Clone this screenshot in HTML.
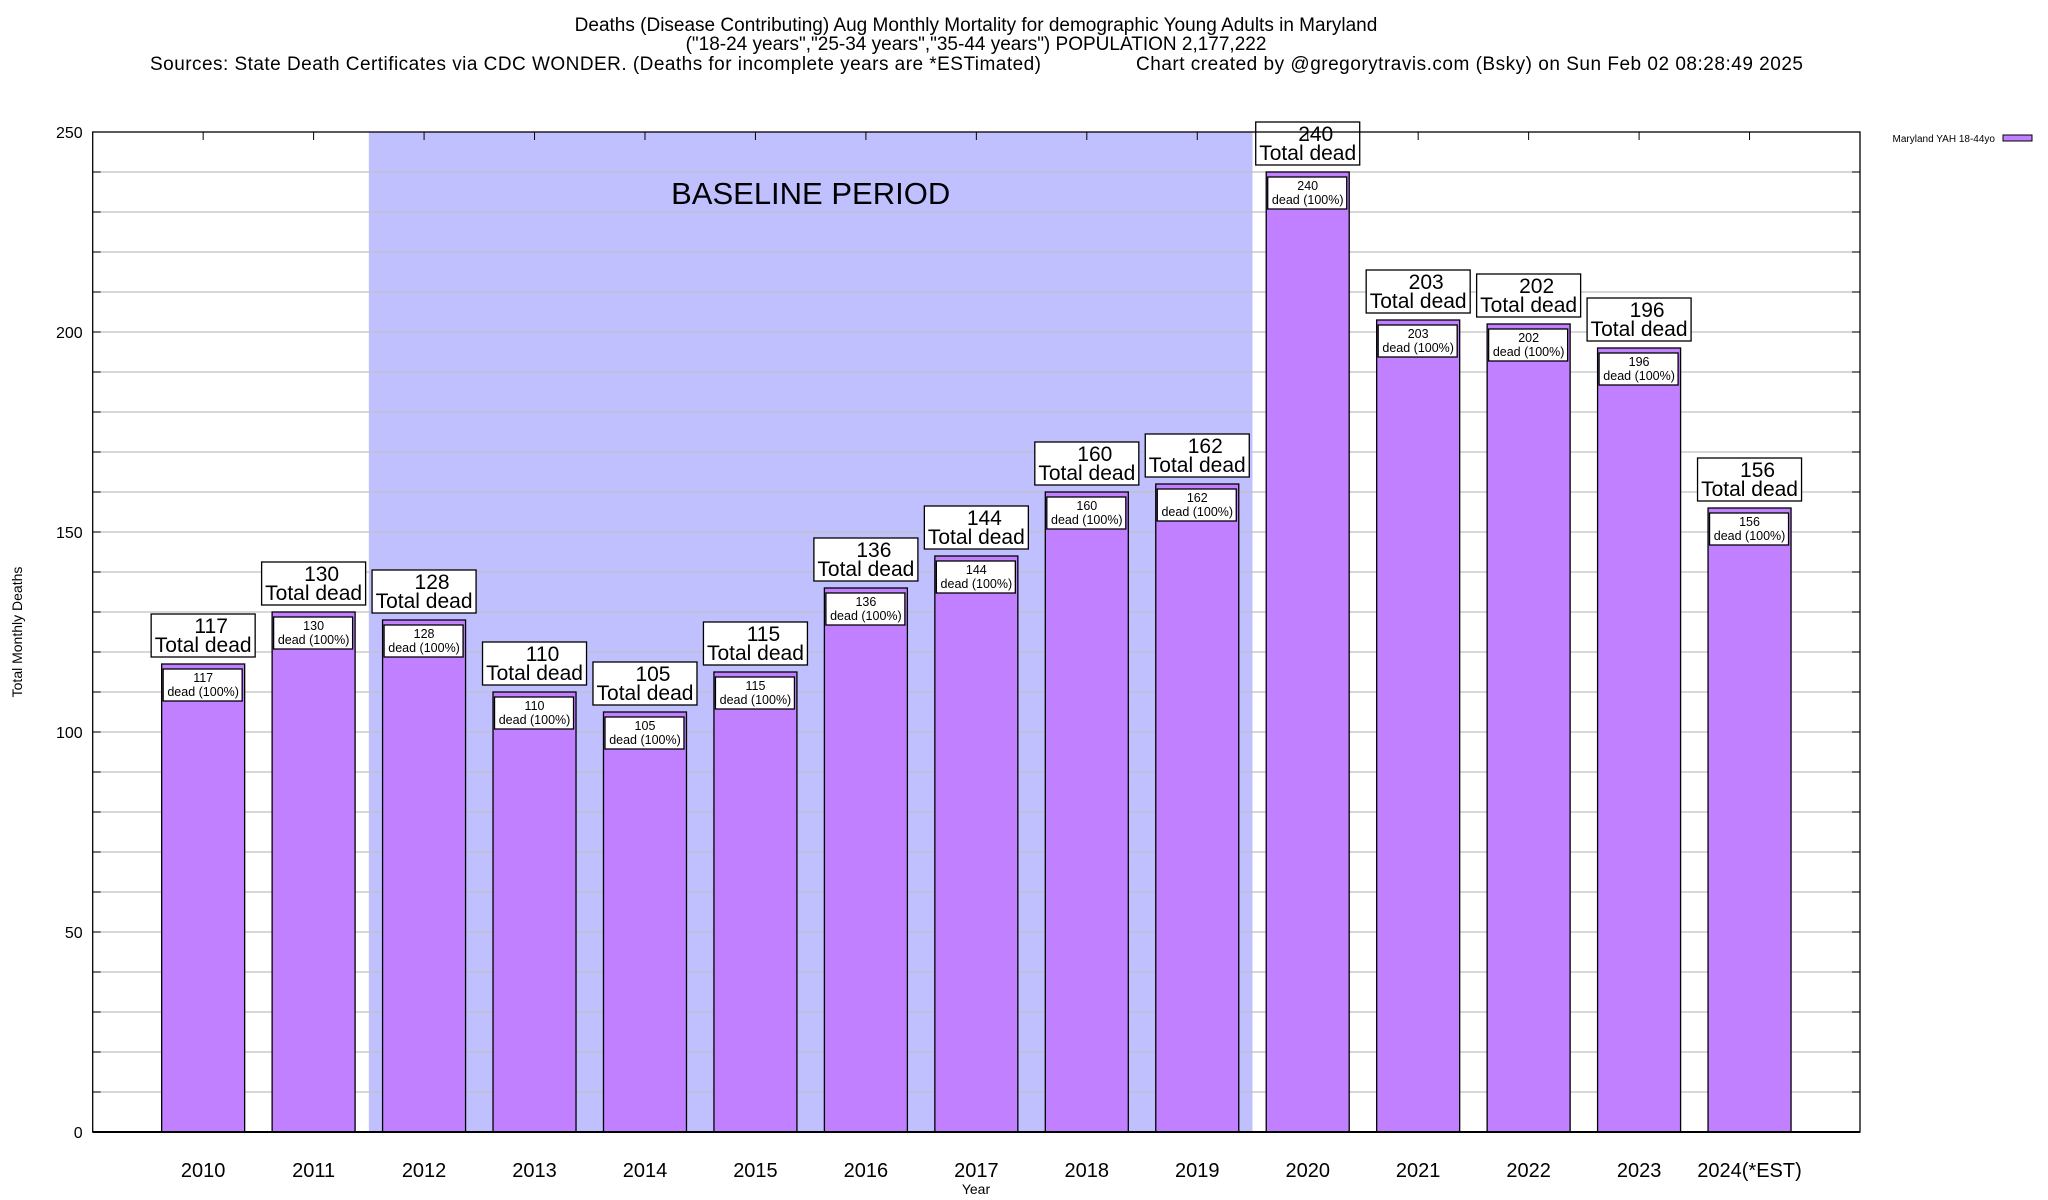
<!DOCTYPE html>
<html><head><meta charset="utf-8"><style>
html,body{margin:0;padding:0;background:#fff;}
svg{display:block;font-family:"Liberation Sans",sans-serif;}
</style></head><body>
<svg id="chart" width="2048" height="1200" viewBox="0 0 2048 1200">
<g font-size="19" text-anchor="middle" fill="#000">
<text x="976" y="31">Deaths (Disease Contributing) Aug Monthly Mortality for demographic Young Adults in Maryland</text>
<text x="976" y="50">("18-24 years","25-34 years","35-44 years") POPULATION 2,177,222</text>
<text x="150" y="70" text-anchor="start" textLength="891">Sources: State Death Certificates via CDC WONDER. (Deaths for incomplete years are *ESTimated)</text>
<text x="1136" y="70" text-anchor="start" textLength="667">Chart created by @gregorytravis.com (Bsky) on Sun Feb 02 08:28:49 2025</text>
</g>
<g id="plot"></g>
<text x="22" y="632" transform="rotate(-90 22 632)" text-anchor="middle" font-size="14">Total Monthly Deaths</text>
<text x="976" y="1194" text-anchor="middle" font-size="14">Year</text>
<g>
<text x="1995" y="142" text-anchor="end" font-size="10">Maryland YAH 18-44yo</text>
<rect x="2003" y="135" width="29" height="6" fill="#c080ff" stroke="#000" stroke-width="1"/>
</g>
</svg>
<script>
const categories = ["2010","2011","2012","2013","2014","2015","2016","2017","2018","2019","2020","2021","2022","2023","2024(*EST)"];
const deaths = [117,130,128,110,105,115,136,144,160,162,240,203,202,196,156];
const yTicks = [0,50,100,150,200,250];
const baselineStart = 1.5, baselineEnd = 9.5;

const L=92.7,R=1860,T=132,B=1132,yMax=250;
const NS='http://www.w3.org/2000/svg';
const xs = i => L + (i+1)*(R-L)/(categories.length+1);
const ys = v => B - v*(B-T)/yMax;
const g = document.getElementById('plot');
function mk(tag, attrs, parent){const e=document.createElementNS(NS,tag);for(const k in attrs)e.setAttribute(k,attrs[k]);(parent||g).appendChild(e);return e;}

const band = mk('rect',{x:xs(baselineStart),y:T,width:xs(baselineEnd)-xs(baselineStart),height:B-T,fill:'#c0c0ff'});


const bt = mk('text',{x:(xs(baselineStart)+xs(baselineEnd))/2,y:204,'text-anchor':'middle','font-size':31});
bt.textContent='BASELINE PERIOD';



for(let v=10; v<yMax; v+=10){
  const gl = mk('line',{x1:L,x2:R,y1:ys(v),y2:ys(v),stroke:'#c0c0c0','stroke-width':1.3});
  
  
  mk('line',{x1:L,x2:L+8,y1:ys(v),y2:ys(v),stroke:'#000','stroke-width':1});
  mk('line',{x1:R-8,x2:R,y1:ys(v),y2:ys(v),stroke:'#000','stroke-width':1});
}
yTicks.forEach(v=>{
  const t = mk('text',{x:L-10,y:ys(v)+6,'text-anchor':'end','font-size':16});
  t.textContent=v;
  
  
});

const bw=83;
categories.forEach((c,i)=>{
  const cx=xs(i), v=deaths[i], top=ys(v);
  const bar = mk('rect',{x:cx-bw/2,y:top,width:bw,height:B-top,fill:'#c080ff',stroke:'#000','stroke-width':1.3});
  
  
  const ib = mk('rect',{x:cx-bw/2+1.5,y:top+5,width:bw-4,height:32,fill:'#fff',stroke:'#000','stroke-width':1.3});
  
  
  const t1 = mk('text',{x:cx,y:top+18,'text-anchor':'middle','font-size':12.5}); t1.textContent=v;
  
  
  const t2 = mk('text',{x:cx,y:top+32,'text-anchor':'middle','font-size':12.5}); t2.textContent='dead (100%)';
  
  
  const ob = mk('rect',{x:cx-52,y:top-50,width:104,height:43,fill:'#fff',stroke:'#000','stroke-width':1.3});
  
  
  const t3 = mk('text',{x:cx+8,y:top-31,'text-anchor':'middle','font-size':21}); t3.textContent=v;
  
  
  const t4 = mk('text',{x:cx,y:top-12,'text-anchor':'middle','font-size':21}); t4.textContent='Total dead';
  
  
  const xl = mk('text',{x:cx,y:1177,'text-anchor':'middle','font-size':20}); xl.textContent=c;
  
  
  mk('line',{x1:cx,x2:cx,y1:T,y2:T+8,stroke:'#000','stroke-width':1});
});
const frame = mk('rect',{x:L,y:T,width:R-L,height:B-T,fill:'none',stroke:'#000','stroke-width':1.3});


mk('line',{x1:L,x2:R,y1:B,y2:B,stroke:'#000','stroke-width':2});
</script>
</body></html>
